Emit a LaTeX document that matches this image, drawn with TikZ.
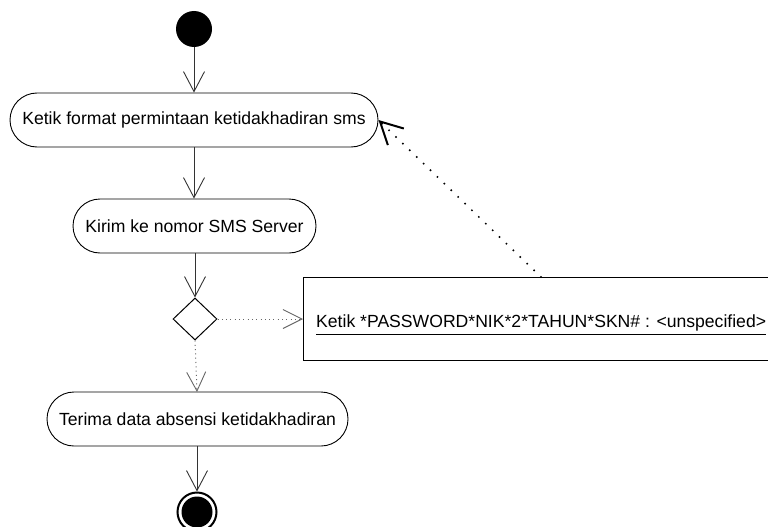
\documentclass[tikz,border=0pt]{standalone}
\usepackage{fontspec}
\setmainfont{Liberation Sans}
\usetikzlibrary{arrows.meta,shapes.geometric,shapes.misc}
\begin{document}
\begin{tikzpicture}[x=1pt,y=-1pt,
  lbl/.style={font=\fontsize{17.6}{20}\selectfont},
  act/.style={draw,rounded rectangle,minimum height=54pt,inner sep=0pt,line width=0.9pt,lbl},
  flow/.style={draw=black!80,line width=0.9pt,-{Straight Barb[length=20pt,width=21pt]}},
  objflow/.style={draw=black!60,line width=1pt,dash pattern=on 1pt off 3.3pt,
    -{Straight Barb[length=19pt,width=19pt,line width=0.9pt]}},
  backflow/.style={draw=black,line width=2.2pt,line cap=round,dash pattern=on 0pt off 9.6pt,
    -{Straight Barb[length=22pt,width=23pt,line width=2pt]}},
  objbox/.style={draw,line width=1.3pt,minimum height=83pt,minimum width=477pt,inner sep=0pt},
  decision/.style={draw,diamond,minimum width=44pt,minimum height=42pt,inner sep=0pt,line width=1pt},
]
\useasboundingbox (0,0) rectangle (768,527);
\clip (0,0) rectangle (768,527);

% start and end states
\node[circle,fill=black,minimum size=36pt,inner sep=0pt] (start) at (194,29) {};
\node[circle,draw,line width=2pt,minimum size=39pt,inner sep=0pt] (final) at (197,512) {};
\fill (final.center) circle[radius=15.5pt];

% actions
\node[act,minimum width=368pt] (a1) at (194,120) {Ketik format permintaan ketidakhadiran sms};
\node[act,minimum width=243pt] (a2) at (194.5,226) {Kirim ke nomor SMS Server};
\node[act,minimum width=301pt] (a3) at (197.5,419) {Terima data absensi ketidakhadiran};

% decision
\node[decision] (d) at (195,319) {};

% object node
\node[objbox,anchor=north west] (obj) at (303,277) {};
\node[lbl,anchor=base west,inner sep=0pt] (objtxt) at (316,327) {Ketik *PASSWORD*NIK*2*TAHUN*SKN\# : <unspecified>};
\draw[line width=0.9pt] ([yshift=-7pt]objtxt.base west) -- ([yshift=-7pt]objtxt.base east);

% control flow
\draw[flow] (start) -- (a1.north -| start);
\draw[flow] (a1.south -| start) -- (a2.north -| start);
\draw[flow] (a2.south -| d) -- (d.north);
\draw[flow] (a3.south -| final) -- (final.north);

% object flow
\draw[objflow] (d.east) -- (obj.west |- d);
\draw[objflow] (d.south) -- (197,392);
\coordinate (src) at (541,277);
\draw[backflow] (src) -- (a1.east);
\end{tikzpicture}
\end{document}
